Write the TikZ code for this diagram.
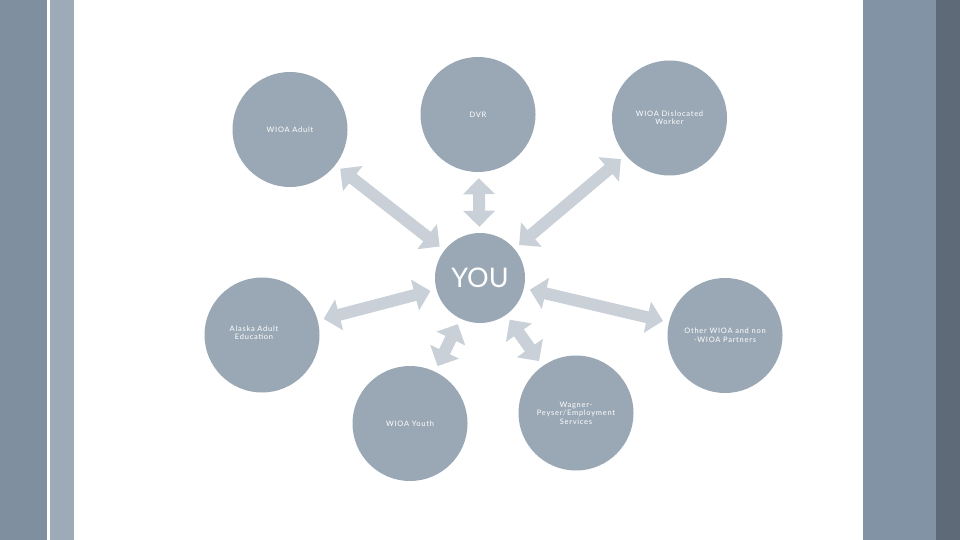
\documentclass[tikz,border=0pt]{standalone}
\usepackage{fontspec}
\setmainfont{Lato}
\newfontfamily\smallfont[LetterSpace=10]{Lato}
\usetikzlibrary{arrows.meta}
\definecolor{bandA}{HTML}{7F8FA0}
\definecolor{bandB}{HTML}{9DAAB7}
\definecolor{bandC}{HTML}{8193A4}
\definecolor{bandD}{HTML}{5E6A77}
\definecolor{bubc}{HTML}{9AA8B5}
\definecolor{arrowc}{HTML}{C9D0D8}
\tikzset{
  bub/.style={circle, fill=bubc, inner sep=0pt, minimum size=115pt, text=white, align=center,
    font=\smallfont\fontsize{7.5}{8.5}\selectfont},
  youbub/.style={circle, fill=bubc, inner sep=0pt, minimum size=90pt, text=white,
    font=\fontsize{27}{30}\selectfont},
  lbl/.style={text=white, align=center, inner sep=0pt, font=\smallfont\fontsize{7.5}{8.5}\selectfont},
  link/.style={draw=arrowc, line width=12pt,
    {Triangle[width=31pt,length=16pt]}-{Triangle[width=31pt,length=16pt]},
    shorten <=6pt, shorten >=6pt}
}
\begin{document}
\begin{tikzpicture}[x=1pt,y=-1pt]
\useasboundingbox (0,0) rectangle (960,540);
\fill[bandA] (0,0) rectangle (46.5,540);
\fill[bandB] (50,0) rectangle (73.5,540);
\fill[bandC] (862.5,0) rectangle (936,540);
\fill[bandD] (936,0) rectangle (960,540);

\node[bub] (dvr) at (478,114.5) {DVR};
\node[bub] (disl) at (669.5,118) {WIOA Dislocated\\Worker};
\node[bub] (adult) at (290,129.5) {WIOA Adult};
\node[youbub] (you) at (480,278) {YOU};
\node[bub] (alaska) at (262,335) {};
\node[lbl] (alaskatext) at (254,333) {Alaska Adult\\Education};
\node[bub] (other) at (725,335.5) {Other WIOA and non\\-WIOA Partners};
\node[bub] (youth) at (410,423.5) {WIOA Youth};
\node[bub] (wagner) at (576,413) {Wagner-\\Peyser/Employment\\Services};

\draw[link] (adult) -- (you);
\draw[link] (dvr) -- (you);
\draw[link] (disl) -- (you);
\draw[link] (alaska) -- (you);
\draw[link] (other) -- (you);
\draw[link] (youth) -- (you);
\draw[link] (wagner) -- (you);
\end{tikzpicture}
\end{document}
